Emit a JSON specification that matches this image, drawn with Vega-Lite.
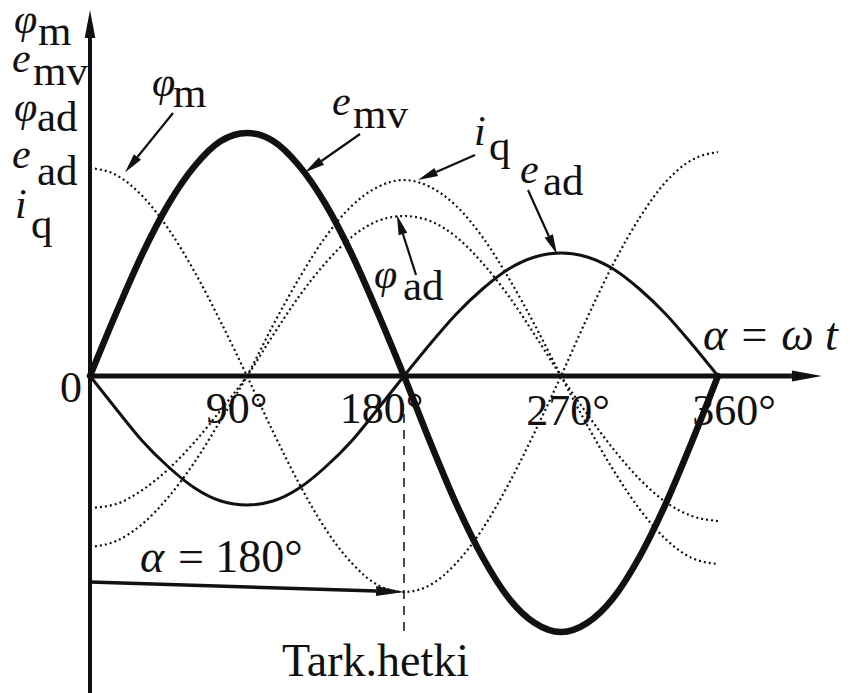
{
  "$schema": "https://vega.github.io/schema/vega-lite/v6.json",
  "width": 850,
  "height": 693,
  "autosize": {"type": "none"},
  "padding": 0,
  "background": "white",
  "config": {
    "view": {"stroke": null},
    "text": {"font": "Liberation Serif", "color": "#111"},
    "line": {"color": "#111"},
    "rule": {"color": "#111"}
  },
  "datasets": {
    "waves": [
      {"a": 0, "emv": 0, "ead": 0, "phim": 2.08, "iq": -1.71, "phiad": -1.32},
      {"a": 15, "emv": 0.63, "ead": -0.33, "phim": 2.01, "iq": -1.65, "phiad": -1.28},
      {"a": 30, "emv": 1.22, "ead": -0.65, "phim": 1.80, "iq": -1.48, "phiad": -1.14},
      {"a": 45, "emv": 1.72, "ead": -0.91, "phim": 1.47, "iq": -1.21, "phiad": -0.93},
      {"a": 60, "emv": 2.10, "ead": -1.12, "phim": 1.04, "iq": -0.86, "phiad": -0.66},
      {"a": 75, "emv": 2.35, "ead": -1.25, "phim": 0.54, "iq": -0.44, "phiad": -0.34},
      {"a": 90, "emv": 2.43, "ead": -1.29, "phim": 0, "iq": 0, "phiad": 0},
      {"a": 105, "emv": 2.35, "ead": -1.25, "phim": -0.56, "iq": 0.51, "phiad": 0.41},
      {"a": 120, "emv": 2.10, "ead": -1.12, "phim": -1.08, "iq": 0.98, "phiad": 0.80},
      {"a": 135, "emv": 1.72, "ead": -0.91, "phim": -1.53, "iq": 1.39, "phiad": 1.13},
      {"a": 150, "emv": 1.22, "ead": -0.65, "phim": -1.87, "iq": 1.70, "phiad": 1.39},
      {"a": 165, "emv": 0.63, "ead": -0.33, "phim": -2.09, "iq": 1.89, "phiad": 1.55},
      {"a": 180, "emv": 0, "ead": 0, "phim": -2.16, "iq": 1.96, "phiad": 1.60},
      {"a": 195, "emv": -0.66, "ead": 0.32, "phim": -2.09, "iq": 1.89, "phiad": 1.55},
      {"a": 210, "emv": -1.28, "ead": 0.62, "phim": -1.87, "iq": 1.70, "phiad": 1.39},
      {"a": 225, "emv": -1.81, "ead": 0.87, "phim": -1.53, "iq": 1.39, "phiad": 1.13},
      {"a": 240, "emv": -2.22, "ead": 1.07, "phim": -1.08, "iq": 0.98, "phiad": 0.80},
      {"a": 255, "emv": -2.47, "ead": 1.19, "phim": -0.56, "iq": 0.51, "phiad": 0.41},
      {"a": 270, "emv": -2.56, "ead": 1.23, "phim": 0, "iq": 0, "phiad": 0},
      {"a": 285, "emv": -2.47, "ead": 1.19, "phim": 0.58, "iq": -0.49, "phiad": -0.38},
      {"a": 300, "emv": -2.22, "ead": 1.07, "phim": 1.12, "iq": -0.94, "phiad": -0.73},
      {"a": 315, "emv": -1.81, "ead": 0.87, "phim": 1.58, "iq": -1.33, "phiad": -1.03},
      {"a": 330, "emv": -1.28, "ead": 0.62, "phim": 1.94, "iq": -1.63, "phiad": -1.26},
      {"a": 345, "emv": -0.66, "ead": 0.32, "phim": 2.16, "iq": -1.82, "phiad": -1.40},
      {"a": 360, "emv": 0, "ead": 0, "phim": 2.24, "iq": -1.88, "phiad": -1.45}
    ],
    "arrows": [
      {"id": "haxis", "a": 402.4, "v": 0, "a2": 0, "v2": 0},
      {"id": "vaxis", "a": 0, "v": 3.38, "a2": 0, "v2": -3.17},
      {"id": "phim", "a": 27.2, "v": 2.19, "a2": 47.6, "v2": 2.63},
      {"id": "emv", "a": 132.7, "v": 2.15, "a2": 154.8, "v2": 2.42},
      {"id": "iq", "a": 198.5, "v": 2.04, "a2": 220.7, "v2": 2.21},
      {"id": "ead", "a": 263.0, "v": 1.40, "a2": 251.1, "v2": 1.86},
      {"id": "phiad", "a": 179.4, "v": 1.42, "a2": 186.9, "v2": 1.01},
      {"id": "alpha", "a": 164.0, "v": -2.15, "a2": 0, "v2": -2.06}
    ],
    "ital": [
      {"a": -43.6, "v": 3.43, "t": "φ"},
      {"a": -44.7, "v": 3.04, "t": "e"},
      {"a": -43.6, "v": 2.55, "t": "φ"},
      {"a": -44.7, "v": 2.08, "t": "e"},
      {"a": -43.0, "v": 1.58, "t": "i"},
      {"a": 35.5, "v": 2.80, "t": "φ"},
      {"a": 138.7, "v": 2.61, "t": "e"},
      {"a": 220.1, "v": 2.31, "t": "i"},
      {"a": 246.5, "v": 1.93, "t": "e"},
      {"a": 162.8, "v": 0.88, "t": "φ"}
    ],
    "subs": [
      {"a": -29.8, "v": 3.31, "t": "m"},
      {"a": -32.7, "v": 2.91, "t": "mv"},
      {"a": -30.4, "v": 2.45, "t": "ad"},
      {"a": -30.4, "v": 1.91, "t": "ad"},
      {"a": -33.8, "v": 1.38, "t": "q"},
      {"a": 47.6, "v": 2.69, "t": "m"},
      {"a": 150.8, "v": 2.48, "t": "mv"},
      {"a": 228.7, "v": 2.16, "t": "q"},
      {"a": 259.7, "v": 1.81, "t": "ad"},
      {"a": 179.4, "v": 0.76, "t": "ad"}
    ],
    "tickText": [
      {"a": -10.9, "v": -0.26, "t": "0"},
      {"a": 84.0, "v": -0.47, "t": "90°"},
      {"a": 167.1, "v": -0.47, "t": "180°"},
      {"a": 274.0, "v": -0.49, "t": "270°"},
      {"a": 369.2, "v": -0.49, "t": "360°"}
    ],
    "notes": [
      {"a": 50.4, "v": -1.96, "t": "= 180°"},
      {"a": 110.0, "v": -3.0, "t": "Tark.hetki"}
    ],
    "italNotes": [
      {"a": 351.4, "v": 0.26, "t": "α = ω t"},
      {"a": 28.7, "v": -1.96, "t": "α"}
    ]
  },
  "encoding": {
    "x": {"field": "a", "type": "quantitative", "scale": {"domain": [-51.6, 435.7], "nice": false, "zero": false}, "axis": null},
    "y": {"field": "v", "type": "quantitative", "scale": {"domain": [-3.17, 3.76], "nice": false, "zero": false}, "axis": null}
  },
  "layer": [
    {
      "data": {"name": "waves"},
      "transform": [
        {"fold": ["phim", "iq", "phiad"], "as": ["s", "v"]}
      ],
      "mark": {"type": "line", "interpolate": "monotone", "strokeWidth": 2.2, "strokeDash": [2, 3]},
      "encoding": {"detail": {"field": "s"}}
    },
    {
      "data": {"name": "waves"},
      "transform": [{"fold": ["ead"], "as": ["s", "v"]}],
      "mark": {"type": "line", "interpolate": "monotone", "strokeWidth": 3}
    },
    {
      "data": {"name": "waves"},
      "transform": [{"fold": ["emv"], "as": ["s", "v"]}],
      "mark": {"type": "line", "interpolate": "monotone", "strokeWidth": 6.5, "strokeCap": "round"}
    },
    {
      "data": {"values": [{"a": 180, "v": -0.38, "v2": -2.58}]},
      "mark": {"type": "rule", "strokeWidth": 1.5, "strokeDash": [9, 7]},
      "encoding": {"y2": {"field": "v2"}}
    },
    {
      "data": {"name": "arrows"},
      "transform": [{"filter": "datum.id === 'haxis'"}],
      "mark": {"type": "rule", "strokeWidth": 5},
      "encoding": {"x2": {"field": "a2"}, "y2": {"field": "v2"}}
    },
    {
      "data": {"name": "arrows"},
      "transform": [{"filter": "datum.id === 'vaxis'"}],
      "mark": {"type": "rule", "strokeWidth": 4},
      "encoding": {"x2": {"field": "a2"}, "y2": {"field": "v2"}}
    },
    {
      "data": {"name": "arrows"},
      "transform": [{"filter": "datum.id === 'alpha'"}],
      "mark": {"type": "rule", "strokeWidth": 3.5},
      "encoding": {"x2": {"field": "a2"}, "y2": {"field": "v2"}}
    },
    {
      "data": {"name": "arrows"},
      "transform": [{"filter": "indexof(['phim','emv','iq','ead','phiad'], datum.id) >= 0"}],
      "mark": {"type": "rule", "strokeWidth": 2.2},
      "encoding": {"x2": {"field": "a2"}, "y2": {"field": "v2"}}
    },
    {
      "data": {"name": "arrows"},
      "transform": [{"filter": "datum.id === 'haxis'"}],
      "mark": {"type": "point", "shape": "M0,-0.37L2,0L0,0.37Z", "size": 900, "angle": 0, "filled": true, "color": "#111", "opacity": 1, "strokeWidth": 0}
    },
    {
      "data": {"name": "arrows"},
      "transform": [{"filter": "datum.id === 'vaxis'"}],
      "mark": {"type": "point", "shape": "M0,-0.38L2,0L0,0.38Z", "size": 784, "angle": 270, "filled": true, "color": "#111", "opacity": 1, "strokeWidth": 0}
    },
    {
      "data": {"name": "arrows"},
      "transform": [{"filter": "datum.id === 'alpha'"}],
      "mark": {"type": "point", "shape": "M0,-0.35L2,0L0,0.35Z", "size": 784, "angle": 1.8, "filled": true, "color": "#111", "opacity": 1, "strokeWidth": 0}
    },
    {
      "data": {"name": "arrows"},
      "transform": [{"filter": "datum.id === 'phim'"}],
      "mark": {"type": "point", "shape": "M0,-0.45L2,0L0,0.45Z", "size": 400, "angle": 128.7, "filled": true, "color": "#111", "opacity": 1, "strokeWidth": 0}
    },
    {
      "data": {"name": "arrows"},
      "transform": [{"filter": "datum.id === 'emv'"}],
      "mark": {"type": "point", "shape": "M0,-0.45L2,0L0,0.45Z", "size": 400, "angle": 145.4, "filled": true, "color": "#111", "opacity": 1, "strokeWidth": 0}
    },
    {
      "data": {"name": "arrows"},
      "transform": [{"filter": "datum.id === 'iq'"}],
      "mark": {"type": "point", "shape": "M0,-0.45L2,0L0,0.45Z", "size": 400, "angle": 156.3, "filled": true, "color": "#111", "opacity": 1, "strokeWidth": 0}
    },
    {
      "data": {"name": "arrows"},
      "transform": [{"filter": "datum.id === 'ead'"}],
      "mark": {"type": "point", "shape": "M0,-0.45L2,0L0,0.45Z", "size": 400, "angle": 65.6, "filled": true, "color": "#111", "opacity": 1, "strokeWidth": 0}
    },
    {
      "data": {"name": "arrows"},
      "transform": [{"filter": "datum.id === 'phiad'"}],
      "mark": {"type": "point", "shape": "M0,-0.45L2,0L0,0.45Z", "size": 400, "angle": 252.4, "filled": true, "color": "#111", "opacity": 1, "strokeWidth": 0}
    },
    {
      "data": {"name": "ital"},
      "mark": {"type": "text", "font": "Liberation Serif", "align": "left", "baseline": "alphabetic", "fontSize": 42, "fontStyle": "italic"},
      "encoding": {"text": {"field": "t"}}
    },
    {
      "data": {"name": "subs"},
      "mark": {"type": "text", "font": "Liberation Serif", "align": "left", "baseline": "alphabetic", "fontSize": 43},
      "encoding": {"text": {"field": "t"}}
    },
    {
      "data": {"name": "tickText"},
      "mark": {"type": "text", "font": "Liberation Serif", "align": "center", "baseline": "alphabetic", "fontSize": 44},
      "encoding": {"text": {"field": "t"}}
    },
    {
      "data": {"name": "notes"},
      "mark": {"type": "text", "font": "Liberation Serif", "align": "left", "baseline": "alphabetic", "fontSize": 46},
      "encoding": {"text": {"field": "t"}}
    },
    {
      "data": {"name": "italNotes"},
      "mark": {"type": "text", "font": "Liberation Serif", "align": "left", "baseline": "alphabetic", "fontSize": 46, "fontStyle": "italic"},
      "encoding": {"text": {"field": "t"}}
    }
  ]
}
